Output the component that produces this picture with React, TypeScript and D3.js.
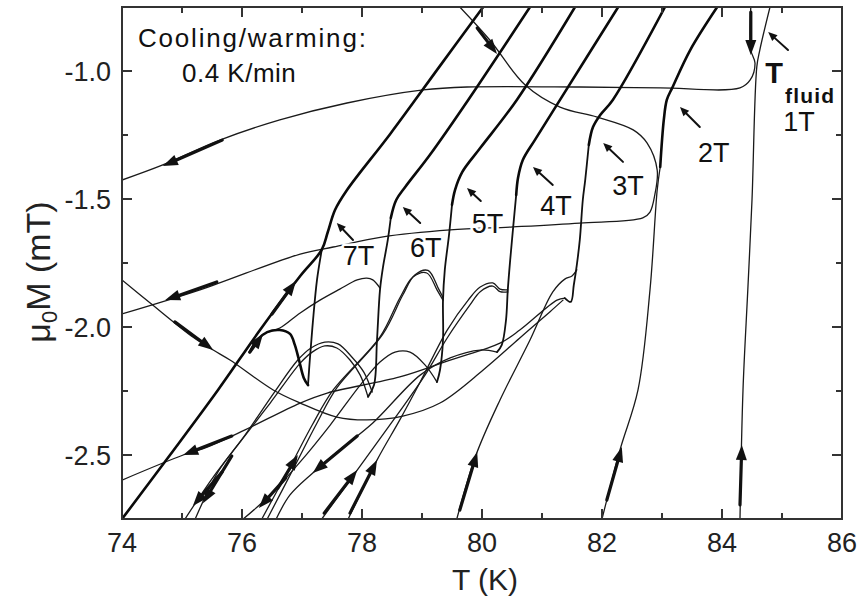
import React from 'react';
import * as d3 from 'd3';

type P = [number, number];

// axes
const tickT = [74, 76, 78, 80, 82, 84, 86];
const minorT = [75, 77, 79, 81, 83, 85];
const tickM = [-1.0, -1.5, -2.0, -2.5];
const minorM = [-1.25, -1.75, -2.25];

// thick solid-phase lines (top part, down to the kink)
const solid7: P[] = [[80.02,-0.75],[79.30,-0.980],[78.47,-1.246],[77.75,-1.465],[77.55,-1.543],[77.43,-1.629],[77.33,-1.698],[76.97,-1.801],[76.30,-2.012],[75.60,-2.246],[74.80,-2.5],[74.0,-2.75]];
const solid6: P[] = [[80.80,-0.75],[79.77,-1.113],[79.13,-1.328],[78.72,-1.453],[78.57,-1.504],[78.48,-1.574]];
const solid5: P[] = [[81.55,-0.75],[80.58,-1.113],[79.97,-1.301],[79.67,-1.395],[79.55,-1.465],[79.50,-1.523]];
const solid4: P[] = [[82.27,-0.75],[81.30,-1.113],[80.88,-1.27],[80.68,-1.348],[80.60,-1.418],[80.57,-1.484]];
const solid3: P[] = [[83.05,-0.75],[82.18,-1.113],[81.97,-1.172],[81.85,-1.219],[81.78,-1.289]];
const solid2: P[] = [[83.92,-0.75],[83.47,-0.918],[83.17,-1.066],[83.08,-1.113],[83.03,-1.191],[82.97,-1.375]];

// vertical drops below the kinks
const drop7: P[] = [[77.33,-1.698],[77.25,-1.816],[77.18,-1.984],[77.13,-2.129],[77.10,-2.227]];
const drop6: P[] = [[78.48,-1.574],[78.43,-1.660],[78.35,-1.766],[78.30,-1.855],[78.25,-2.051],[78.20,-2.227],[78.10,-2.273]];
const drop5: P[] = [[79.50,-1.523],[79.45,-1.641],[79.38,-1.777],[79.35,-1.895],[79.35,-2.051],[79.30,-2.168],[79.25,-2.215]];
const drop4: P[] = [[80.57,-1.484],[80.52,-1.609],[80.47,-1.738],[80.43,-1.855],[80.40,-1.973],[80.33,-2.070],[80.25,-2.098]];
const drop3: P[] = [[81.78,-1.289],[81.72,-1.426],[81.68,-1.504],[81.63,-1.660],[81.58,-1.758],[81.53,-1.836],[81.48,-1.902],[81.38,-1.887]];
const drop2: P[] = [[82.97,-1.375],[82.92,-1.465],[82.80,-1.855],[82.60,-2.246],[82.30,-2.480],[82.0,-2.75]];

const hook7: P[] = [[76.13,-2.098],[76.25,-2.051],[76.42,-2.020],[76.63,-2.012],[76.80,-2.027],[76.88,-2.070],[76.95,-2.129],[77.03,-2.199],[77.10,-2.227]];

// warming branches
const warm3: P[] = [[79.58,-2.75],[79.90,-2.5],[80.30,-2.285],[80.80,-2.051],[81.18,-1.863],[81.38,-1.813],[81.50,-1.801],[81.58,-1.777]];
const warm4: P[] = [[77.77,-2.75],[78.25,-2.520],[78.63,-2.363],[78.97,-2.215],[79.42,-2.012],[79.77,-1.895],[79.97,-1.844],[80.18,-1.828],[80.30,-1.852],[80.43,-1.855]];
const warm4b: P[] = [[77.33,-2.75],[77.92,-2.559],[78.55,-2.355],[79.05,-2.188],[79.42,-2.043],[79.80,-1.914],[79.97,-1.862],[80.18,-1.840],[80.30,-1.862],[80.43,-1.863]];
const warm5a: P[] = [[76.33,-2.75],[76.80,-2.547],[77.17,-2.383],[77.52,-2.246],[78.30,-2.039],[78.63,-1.887],[78.85,-1.805],[79.08,-1.789],[79.25,-1.855],[79.35,-1.895]];
const warm5b: P[] = [[76.42,-2.75],[76.88,-2.543],[77.25,-2.375],[77.58,-2.238],[78.35,-2.027],[78.68,-1.875],[78.88,-1.797],[79.10,-1.779],[79.27,-1.848],[79.35,-1.885]];
const warm6: P[] = [[76.42,-2.020],[76.63,-2.004],[76.97,-1.945],[77.30,-1.895],[77.63,-1.852],[77.92,-1.816],[78.08,-1.809],[78.18,-1.816],[78.30,-1.848]];
const warmU: P[] = [[74.0,-1.816],[74.47,-1.906],[75.18,-2.039],[75.52,-2.090],[75.80,-2.129],[76.52,-2.246],[76.97,-2.297],[77.58,-2.352],[78.08,-2.363],[78.68,-2.348],[79.30,-2.297],[80.02,-2.168],[80.63,-2.043],[81.13,-1.941],[81.35,-1.895]];
const warm1: P[] = [[84.30,-2.75],[84.35,-2.246],[84.43,-1.855],[84.50,-1.504],[84.58,-0.984],[84.63,-0.918],[84.80,-0.75]];

// cooling branches
const cool6a: P[] = [[78.10,-2.273],[77.97,-2.188],[77.80,-2.129],[77.58,-2.082],[77.38,-2.074],[77.17,-2.098],[76.97,-2.141],[76.47,-2.297],[75.97,-2.449],[75.52,-2.586],[75.05,-2.75]];
const cool6b: P[] = [[78.17,-2.254],[78.03,-2.176],[77.83,-2.117],[77.60,-2.066],[77.38,-2.059],[77.15,-2.082],[76.93,-2.129],[76.53,-2.258],[76.05,-2.422],[75.60,-2.566],[75.22,-2.75]];
const cool5: P[] = [[79.25,-2.215],[79.05,-2.148],[78.80,-2.098],[78.55,-2.098],[78.30,-2.137],[77.97,-2.227],[77.47,-2.383],[76.97,-2.527],[76.47,-2.656],[76.02,-2.75]];
const cool4: P[] = [[80.25,-2.098],[79.97,-2.090],[79.47,-2.121],[78.97,-2.188],[78.18,-2.375],[77.63,-2.480],[77.18,-2.570],[76.80,-2.656],[76.57,-2.75]];
const cool3: P[] = [[81.38,-1.887],[81.25,-1.895],[80.63,-2.012],[80.30,-2.063],[79.47,-2.129],[78.63,-2.195],[77.42,-2.258],[76.97,-2.297],[76.05,-2.402],[75.42,-2.469],[75.02,-2.5],[74.0,-2.598]];
const cool2: P[] = [[79.63,-0.75],[80.13,-0.879],[80.72,-1.055],[81.30,-1.141],[81.92,-1.180],[82.52,-1.230],[82.75,-1.281],[82.92,-1.387],[82.88,-1.484],[82.80,-1.551],[82.68,-1.574],[81.63,-1.594],[80.52,-1.609],[79.47,-1.621],[78.35,-1.648],[77.52,-1.6875],[76.97,-1.715],[75.30,-1.855],[74.0,-1.949]];
const cool1: P[] = [[84.48,-0.75],[84.48,-0.918],[84.55,-0.969],[84.47,-1.035],[84.30,-1.066],[82.97,-1.066],[81.63,-1.0625],[79.75,-1.0625],[79.02,-1.074],[77.75,-1.125],[76.63,-1.191],[75.63,-1.27],[74.68,-1.367],[74.0,-1.426]];

// direction arrows on curves: [tail, tip]
const curveArrows: [P, P][] = [
  [[75.67,-1.270],[74.68,-1.371]],
  [[79.92,-0.832],[80.25,-0.934]],
  [[75.58,-1.824],[74.72,-1.895]],
  [[74.88,-1.98],[75.52,-2.09]],
  [[84.48,-0.77],[84.48,-0.9375]],
  [[84.30,-2.695],[84.33,-2.461]],
  [[82.08,-2.676],[82.33,-2.469]],
  [[79.63,-2.715],[79.92,-2.488]],
  [[77.80,-2.727],[78.25,-2.520]],
  [[77.37,-2.727],[77.92,-2.559]],
  [[76.60,-2.629],[76.93,-2.5]],
  [[75.67,-2.566],[75.18,-2.699]],
  [[75.83,-2.504],[75.35,-2.688]],
  [[76.73,-2.590],[76.28,-2.707]],
  [[77.92,-2.426],[77.18,-2.570]],
  [[75.83,-2.426],[75.02,-2.5]],
  [[76.50,-1.949],[76.90,-1.820]],
  [[76.13,-2.098],[76.35,-2.027]],
];

// field labels and their pointer arrows
const fieldLabels = ['7T', '6T', '5T', '4T', '3T', '2T'];
const labelPos: P[] = [[77.68,-1.758],[78.80,-1.727],[79.83,-1.633],[80.97,-1.5625],[82.17,-1.484],[83.60,-1.355]];
const labelArrows: [P, P][] = [
  [[77.85,-1.660],[77.58,-1.594]],
  [[78.97,-1.594],[78.68,-1.531]],
  [[79.98,-1.508],[79.75,-1.457]],
  [[81.18,-1.445],[80.85,-1.375]],
  [[82.35,-1.355],[82.02,-1.281]],
  [[83.63,-1.219],[83.30,-1.141]],
  [[85.10,-0.918],[84.77,-0.848]],
];

const FONT = '"Liberation Sans", Arial, Helvetica, sans-serif';

export default function App() {
  const x = d3.scaleLinear().domain([74, 86]).range([122, 842]);
  const y = d3.scaleLinear().domain([-0.75, -2.75]).range([7, 519]);
  const smooth = d3.line<P>().x(d => x(d[0])).y(d => y(d[1])).curve(d3.curveCatmullRom.alpha(0.5));

  const thick = [solid7, solid6, solid5, solid4, solid3, solid2, hook7];
  const medium = [drop7, drop6, drop5, drop4, drop3];
  const thin = [drop2, warm3, warm4, warm4b, warm5a, warm5b, warm6, warmU, warm1, cool6a, cool6b, cool5, cool4, cool3, cool2, cool1];

  const arrowEl = (a: [P, P], i: number, shaftW: number, headLen: number, half: number, key: string) => {
    const x1 = x(a[0][0]), y1 = y(a[0][1]), x2 = x(a[1][0]), y2 = y(a[1][1]);
    const dx = x2 - x1, dy = y2 - y1;
    const len = Math.hypot(dx, dy) || 1;
    const ux = dx / len, uy = dy / len;
    const bx = x2 - ux * headLen, by = y2 - uy * headLen;
    const px = -uy * half, py = ux * half;
    return (
      <g key={key + i}>
        <line x1={x1} y1={y1} x2={bx} y2={by} stroke="#111" strokeWidth={shaftW} strokeLinecap="round" />
        <polygon points={`${x2},${y2} ${bx + px},${by + py} ${bx - px},${by - py}`} fill="#111" />
      </g>
    );
  };

  const halo = { paintOrder: 'stroke' as const, stroke: '#fff', strokeWidth: 5, strokeLinejoin: 'round' as const };

  return (
    <svg width={865} height={601} style={{ position: 'absolute', left: 0, top: 0, background: '#fff' }} fontFamily={FONT}>
      <defs>
        <clipPath id="plot"><rect x={122} y={7} width={720} height={512} /></clipPath>
      </defs>
      <rect x={0} y={0} width={865} height={601} fill="#fff" />
      <g clipPath="url(#plot)" fill="none" strokeLinejoin="round" strokeLinecap="round">
        {thin.map((d, i) => <path key={'t' + i} d={smooth(d) || ''} stroke="#1a1a1a" strokeWidth={1.3} />)}
        {medium.map((d, i) => <path key={'m' + i} d={smooth(d) || ''} stroke="#111" strokeWidth={1.8} />)}
        {thick.map((d, i) => <path key={'k' + i} d={smooth(d) || ''} stroke="#0a0a0a" strokeWidth={2.6} />)}
        {curveArrows.map((a, i) => arrowEl(a, i, 3.2, 15, 5.5, 'ca'))}
      </g>
      {/* labels */}
      {fieldLabels.map((t, i) => (
        <text key={'fl' + i} x={x(labelPos[i][0])} y={y(labelPos[i][1])} fontSize={27} fill="#111" {...halo}>{t}</text>
      ))}
      {labelArrows.map((a, i) => arrowEl(a, i, 2, 9, 4, 'la'))}
      <text x={x(84.72)} y={y(-1.047)} fontSize={29} fontWeight="bold" fill="#111">T</text>
      <text x={x(85.05)} y={y(-1.125)} fontSize={21} fontWeight="bold" letterSpacing={1.2} fill="#111">fluid</text>
      <text x={x(85.02)} y={y(-1.234)} fontSize={27} fill="#111">1T</text>
      <text x={138} y={47} fontSize={26} letterSpacing={1.8} fill="#111">Cooling/warming:</text>
      <text x={182} y={82} fontSize={26} letterSpacing={0.5} fill="#111">0.4 K/min</text>

      {/* frame */}
      <rect x={122} y={7} width={720} height={512} fill="none" stroke="#333" strokeWidth={2} />
      {tickT.map(t => (
        <g key={'xt' + t}>
          <line x1={x(t)} x2={x(t)} y1={519} y2={509} stroke="#333" strokeWidth={2} />
          <line x1={x(t)} x2={x(t)} y1={7} y2={17} stroke="#333" strokeWidth={2} />
          <text x={x(t)} y={552} textAnchor="middle" fontSize={27} fill="#222">{t}</text>
        </g>
      ))}
      {minorT.map(t => (
        <g key={'xm' + t}>
          <line x1={x(t)} x2={x(t)} y1={519} y2={513} stroke="#333" strokeWidth={2} />
          <line x1={x(t)} x2={x(t)} y1={7} y2={13} stroke="#333" strokeWidth={2} />
        </g>
      ))}
      {tickM.map(m => (
        <g key={'yt' + m}>
          <line x1={122} x2={132} y1={y(m)} y2={y(m)} stroke="#333" strokeWidth={2} />
          <line x1={842} x2={832} y1={y(m)} y2={y(m)} stroke="#333" strokeWidth={2} />
          <text x={111} y={y(m) + 9.5} textAnchor="end" fontSize={27} fill="#222">{m.toFixed(1)}</text>
        </g>
      ))}
      {minorM.map(m => (
        <g key={'ym' + m}>
          <line x1={122} x2={128} y1={y(m)} y2={y(m)} stroke="#333" strokeWidth={2} />
          <line x1={842} x2={836} y1={y(m)} y2={y(m)} stroke="#333" strokeWidth={2} />
        </g>
      ))}
      <text x={485} y={590} textAnchor="middle" fontSize={30} fill="#222">T (K)</text>
      <text transform={`translate(50, 272) rotate(-90)`} textAnchor="middle" fontSize={34} fill="#222">
        <tspan>μ</tspan><tspan fontSize={22} dy={7}>0</tspan><tspan dy={-7}>M (mT)</tspan>
      </text>
    </svg>
  );
}
